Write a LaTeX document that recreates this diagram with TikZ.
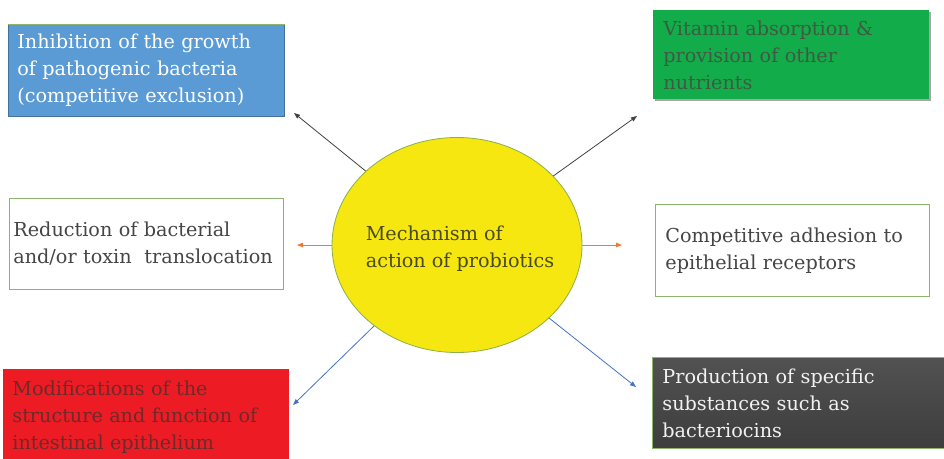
\documentclass[tikz,border=0pt]{standalone}
\usepackage{fontspec}
\setmainfont{DejaVu Serif}
\usetikzlibrary{arrows.meta,shapes.geometric}
\definecolor{bluefill}{HTML}{5B9BD5}
\definecolor{blueedge}{HTML}{41719C}
\definecolor{greenfill}{HTML}{12AD4A}
\definecolor{greentext}{HTML}{3F5A42}
\definecolor{edgegreen}{HTML}{8DB36E}
\definecolor{graytext}{HTML}{454545}
\definecolor{redfill}{HTML}{ED1C24}
\definecolor{redtext}{HTML}{6E2A2A}
\definecolor{yellowfill}{HTML}{F5E70F}
\definecolor{yellowedge}{HTML}{8AB04A}
\definecolor{centertext}{HTML}{4A4A22}
\definecolor{arrgray}{HTML}{404040}
\definecolor{arrorange}{HTML}{ED7D31}
\definecolor{arrblue}{HTML}{4472C4}
\begin{document}
\begin{tikzpicture}[x=1pt,y=-1pt,
  boxnode/.style={rectangle, anchor=north west, align=left, inner xsep=9pt, inner ysep=0pt,
    font=\fontsize{19.2}{27}\selectfont, line width=0.8pt},
  conn/.style={line width=0.8pt, -{Triangle[length=6pt,width=4.5pt]}}]
\useasboundingbox (0,0) rectangle (944,458);
\fill[white] (0,0) rectangle (944,458);

% boxes
\node[boxnode, fill=bluefill, draw=blueedge, text=white, minimum width=276pt, minimum height=92pt, text width=258pt] (b1) at (8,24)
  {Inhibition of the growth\\of pathogenic bacteria\\(competitive exclusion)};
\draw[edgegreen, line width=1pt] (b1.north west) -- (b1.north east);

\draw[black!35, line width=1.5pt] (655,100) -- (930,100) -- (930,12);
\node[boxnode, fill=greenfill, text=greentext, minimum width=276pt, minimum height=89pt, text width=256pt, inner xsep=10pt] (b2) at (653,10)
  {Vitamin absorption \&\\provision of other\\nutrients};

\node[boxnode, fill=white, draw=edgegreen, text=graytext, minimum width=274pt, minimum height=91pt, text width=266pt, inner xsep=4pt] (b3) at (9,198)
  {Reduction of bacterial\\and/or toxin\ \ translocation};

\node[boxnode, fill=white, draw=edgegreen, text=graytext, minimum width=274pt, minimum height=92pt, text width=254pt, inner xsep=10pt] (b4) at (655,204)
  {Competitive adhesion to\\epithelial receptors};

\node[boxnode, fill=redfill, text=redtext, minimum width=286pt, minimum height=95pt, text width=268pt] (b5) at (3,369)
  {Modifications of the\\structure and function of\\intestinal epithelium};

\node[boxnode, top color=black!68, bottom color=black!76, draw=edgegreen, text=black!5, minimum width=300pt, minimum height=91pt, text width=280pt, inner xsep=10pt] (b6) at (652,357)
  {Production of specific\\substances such as\\bacteriocins};

% centre
\node[ellipse, fill=yellowfill, draw=yellowedge, line width=0.8pt, minimum width=250pt, minimum height=215pt, inner sep=0pt,
  label={[text=centertext, font=\fontsize{19.2}{27}\selectfont, align=left, yshift=-4pt, xshift=3pt]center:Mechanism of\\action of probiotics}] (c) at (457,245) {};

% arrow ends
\coordinate (e1) at (294,113);
\coordinate (e2) at (637,116);
\coordinate (e3) at (297,245);
\coordinate (e4) at (622,245);
\coordinate (e5) at (293,405);
\coordinate (e6) at (636,387);

\draw[conn, arrgray] (c) -- (e1);
\draw[conn, arrgray] (c) -- (e2);
\draw[conn, arrorange] (c) -- (e3);
\draw[conn, arrorange] (c) -- (e4);
\draw[conn, arrblue] (c) -- (e5);
\draw[conn, arrblue] (c) -- (e6);
\end{tikzpicture}
\end{document}
